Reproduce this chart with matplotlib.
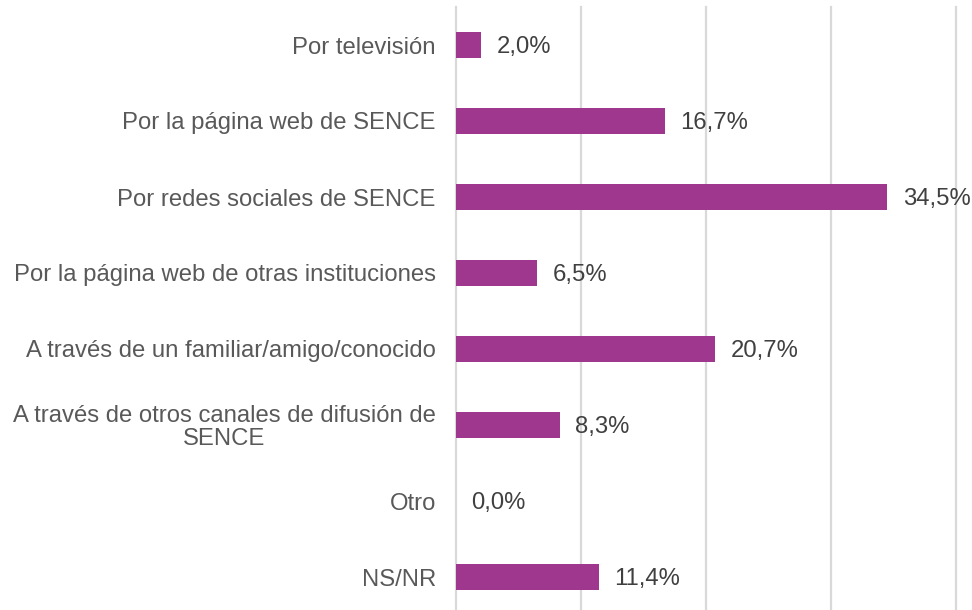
import matplotlib
matplotlib.use('Agg')
from matplotlib import pyplot as plt

categories = ['Por televisión', 'Por la página web de SENCE', 'Por redes sociales de SENCE',
              'Por la página web de otras instituciones', 'A través de un familiar/amigo/conocido',
              'A través de otros canales de difusión de\nSENCE', 'Otro', 'NS/NR']
values = [2.0, 16.7, 34.5, 6.5, 20.7, 8.3, 0.0, 11.4]
labels = ['2,0%', '16,7%', '34,5%', '6,5%', '20,7%', '8,3%', '0,0%', '11,4%']
grid_x = [0, 10, 20, 30, 40]

plt.rcParams['font.family'] = ['Liberation Sans', 'DejaVu Sans']

fig = plt.figure(figsize=(9.72, 6.10), dpi=100)
ax = fig.add_axes([456 / 972, -5 / 610, 500 / 972, 608 / 610])

ypos = list(range(len(categories)))
ax.barh(ypos, values, height=0.35, color='#A0378F', zorder=3)

for y, v, lab in zip(ypos, values, labels):
    ax.text(v + 1.25, y + 0.02, lab, va='center', ha='left', fontsize=17.2, color='#404040')

for gx in grid_x:
    ax.axvline(gx, color='#D9D9D9', linewidth=1.6, zorder=0, clip_on=False)

ax.set_xlim(0, 40)
ax.set_ylim(len(categories) - 0.5, -0.5)
ax.set_xticks([])
ax.tick_params(axis='y', length=0, pad=14.5)
ax.set_yticks(ypos)
ax.set_yticklabels(categories, fontsize=17.2, color='#595959', multialignment='center',
                   linespacing=1.05)
for s in ax.spines.values():
    s.set_visible(False)

fig.savefig('out.png', dpi=100)
